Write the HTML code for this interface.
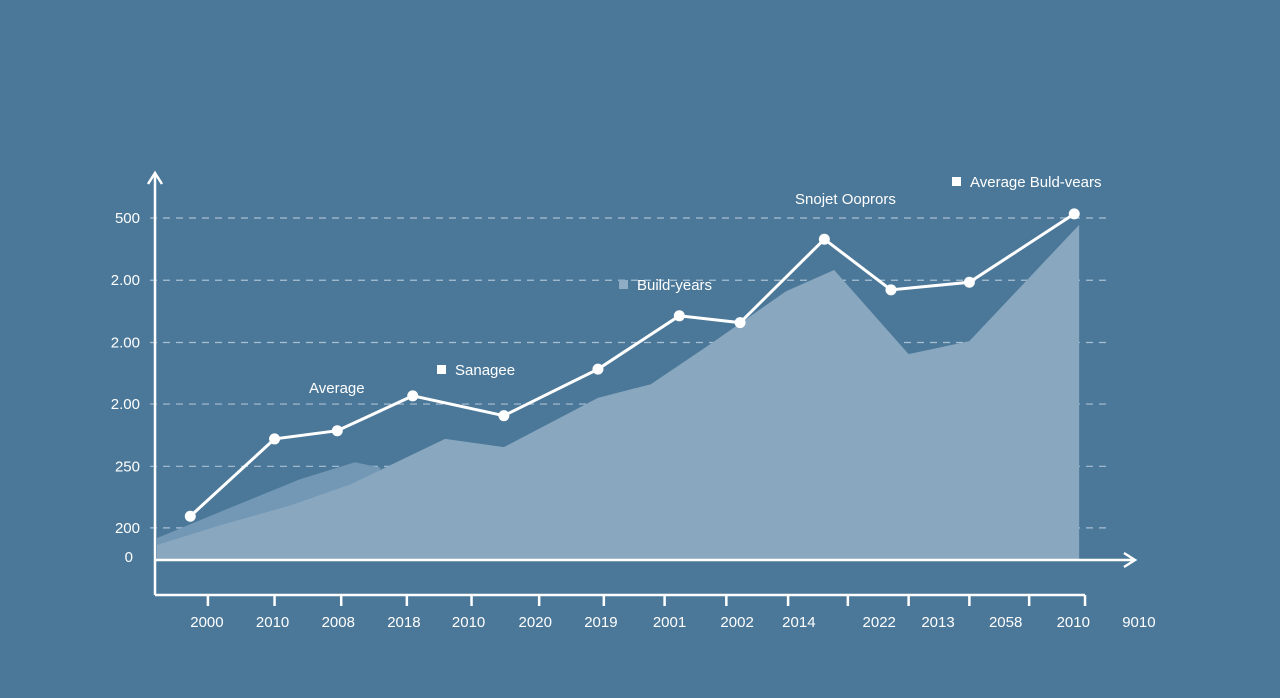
<!DOCTYPE html>
<html><head><meta charset="utf-8"><style>
body{margin:0;background:#4b7899;}
svg{display:block;font-family:"Liberation Sans",sans-serif;}
</style></head><body>
<svg id="c" width="1280" height="698">
<rect width="1280" height="698" fill="#4b7899"/>
<g id="grid"></g><g id="areas"></g><g id="axes"></g><g id="line"></g><g id="labels"></g>
</svg>
<script>
const yTickLabels=["500","2.00","2.00","2.00","250","200"];
const yTickVals=[500,409,318,228,137,47];
const xLabels=["2000","2010","2008","2018","2010","2020","2019","2001","2002","2014","2022","2013","2058","2010","9010"];
const xLabelPos=[5.3,12,18.7,25.4,32,38.8,45.5,52.5,59.4,65.7,73.9,79.9,86.8,93.7,100.4];
const xTickPos=[5.4,12.2,19,25.7,32.3,39.2,45.8,52,58.3,64.6,70.7,76.9,83.1,89.2,94.9];
const lineX=[3.6,12.2,18.6,26.3,35.6,45.2,53.5,59.7,68.3,75.1,83.1,93.8];
const lineV=[64,177,189,240,211,279,357,347,469,395,406,506];
const backX=[0.2,7.6,14.8,20.4,23];
const backV=[32,76,118,143,135];
const frontX=[0.2,6.7,13.9,20,29.6,35.6,45.2,50.6,56.7,64.4,69.3,76.9,83.1,94.3];
const frontV=[22,51,80,111,177,165,237,257,316,393,424,301,320,490];
const sx=v=>155+v*9.8;
const sy=v=>560-v*(342/500);
const NS="http://www.w3.org/2000/svg";
function mk(t,a,p){const e=document.createElementNS(NS,t);for(const k in a)e.setAttribute(k,a[k]);p.appendChild(e);return e;}
const G=document.getElementById('grid'),A=document.getElementById('areas'),X=document.getElementById('axes'),L=document.getElementById('line'),T=document.getElementById('labels');
yTickVals.forEach((v,i)=>{
 const g=mk('line',{x1:150,x2:1110,y1:sy(v),y2:sy(v),stroke:'#a9c0d3','stroke-width':1.2,'stroke-dasharray':'7 6'},G);
 
 
 const t=mk('text',{x:140,y:sy(v)+5,'text-anchor':'end','font-size':15,fill:'#fff'},T);
 t.textContent=yTickLabels[i];
 
 
});
const z=mk('text',{x:133,y:562,'text-anchor':'end','font-size':15,fill:'#fff'},T);z.textContent='0';


function area(xs,vs,fill,name){
 let d='M'+sx(xs[0])+',560';xs.forEach((x,i)=>d+=' L'+sx(x)+','+sy(vs[i]));d+=' L'+sx(xs[xs.length-1])+',560Z';
 const p=mk('path',{d:d,fill:fill},A);
 
 
}
area(backX,backV,'#7398b5','back-area');
area(frontX,frontV,'#89a8c0','build-years-area');
mk('path',{d:'M155,595 L155,174 M148,184 L155,173 L162,184',stroke:'#fff','stroke-width':2.5,fill:'none'},X);
mk('path',{d:'M155,560 L1134,560 M1124,553 L1135,560 L1124,567',stroke:'#fff','stroke-width':2.5,fill:'none'},X);
mk('line',{x1:155,x2:1085,y1:595,y2:595,stroke:'#fff','stroke-width':2.5},X);
xTickPos.forEach(p=>{const t=mk('line',{x1:sx(p),x2:sx(p),y1:595,y2:606,stroke:'#fff','stroke-width':2.5},X);
 
 });
xLabels.forEach((s,i)=>{const t=mk('text',{x:sx(xLabelPos[i]),y:627,'text-anchor':'middle','font-size':15,fill:'#fff'},T);t.textContent=s;
 
 });
mk('polyline',{points:lineX.map((x,i)=>sx(x)+','+sy(lineV[i])).join(' '),fill:'none',stroke:'#fff','stroke-width':3},L);
lineX.forEach((x,i)=>{const c=mk('circle',{cx:sx(x),cy:sy(lineV[i]),r:5.5,fill:'#fff'},L);
 
 });
function lbl(x,y,s,sq,name){
 if(sq){mk('rect',{x:x-18,y:y-10,width:9,height:9,fill:sq},T);}
 const t=mk('text',{x:x,y:y,'font-size':15,fill:'#fff'},T);t.textContent=s;
 
 
}
lbl(309,393,'Average',null,'average-label');
lbl(455,375,'Sanagee','#fff','legend-sanagee');
lbl(637,290,'Build-years','#8eacc4','legend-build-years');
lbl(795,204,'Snojet Ooprors',null,'snojet-label');
lbl(970,187,'Average Buld-vears','#fff','legend-average-build-years');
</script>
</body></html>
